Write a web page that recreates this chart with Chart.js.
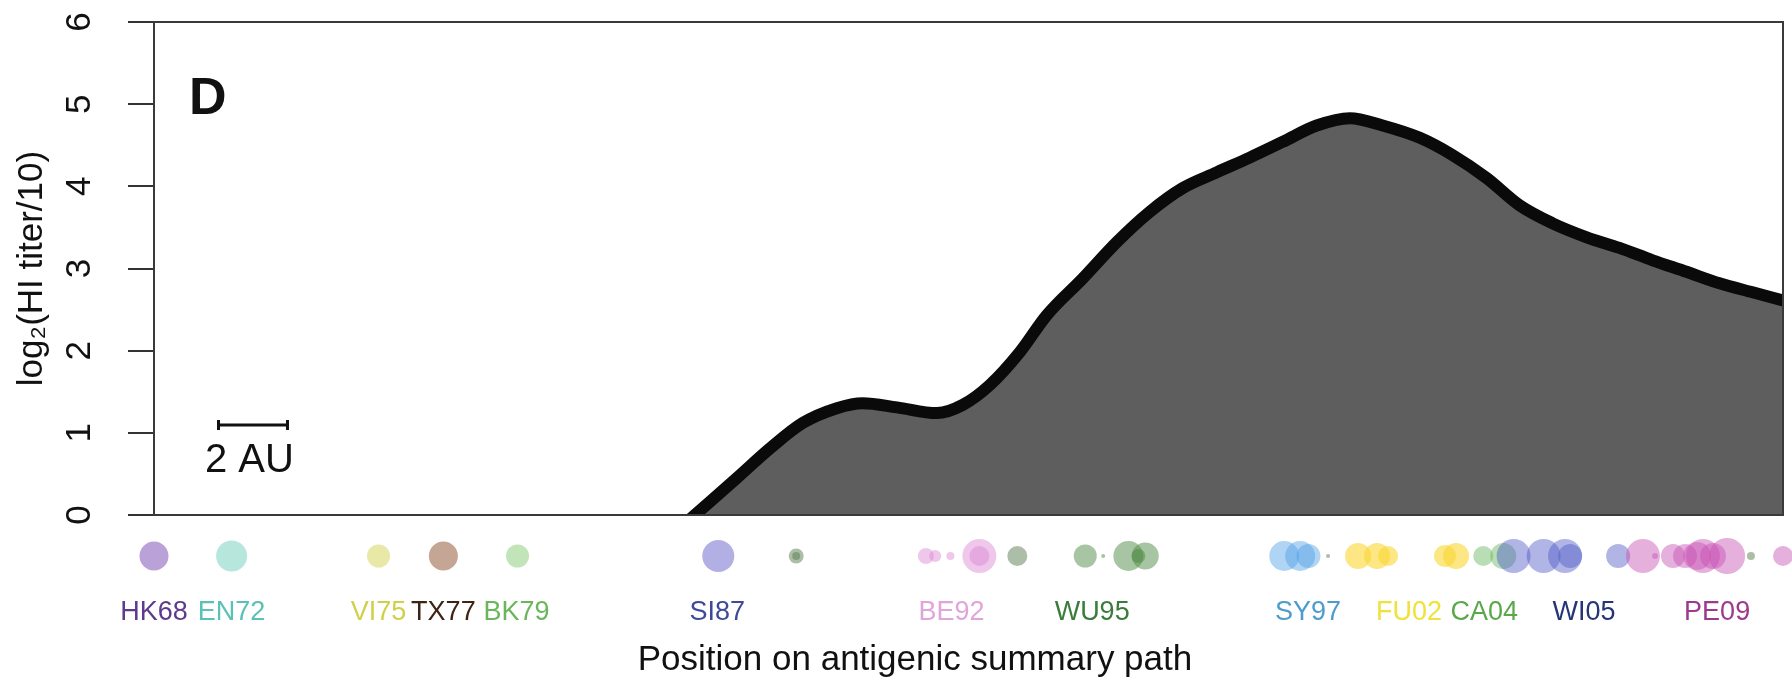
<!DOCTYPE html>
<html>
<head>
<meta charset="utf-8">
<script src="https://cdn.jsdelivr.net/npm/chart.js@4/dist/chart.umd.min.js"></script>
<style>
  html, body { margin: 0; padding: 0; background: #ffffff; }
  #wrap { position: relative; width: 1792px; height: 685px; }
</style>
</head>
<body>
<div id="wrap"><canvas id="landscape"></canvas></div>
<script>
// ---- Data -------------------------------------------------------------
// Antibody landscape along the antigenic summary path (x in antigenic units)
const pathPos = [15.68, 16.90, 17.86, 18.81, 19.80, 20.55, 21.54, 22.70, 23.45, 24.23,
                 25.10, 25.88, 26.93, 27.91, 28.87, 29.83, 30.81, 31.77, 32.72, 33.71,
                 34.67, 35.62, 36.70, 37.65, 38.64, 39.59, 40.55, 41.54, 42.49, 43.45,
                 44.43, 45.39, 46.35, 47.23];
const log2Titer = [0.00, 0.45, 0.81, 1.12, 1.30, 1.36, 1.31, 1.24, 1.34, 1.58,
                   1.98, 2.43, 2.88, 3.32, 3.69, 3.98, 4.17, 4.35, 4.54, 4.74,
                   4.83, 4.74, 4.59, 4.38, 4.10, 3.77, 3.55, 3.38, 3.25, 3.10,
                   2.96, 2.82, 2.71, 2.61];

// Reference strains named under the path
const strainNames = ['HK68', 'EN72', 'VI75', 'TX77', 'BK79', 'SI87', 'BE92',
                     'WU95', 'SY97', 'FU02', 'CA04', 'WI05', 'PE09'];
const strainPos = [0.00, 2.25, 6.51, 8.39, 10.51, 16.33, 23.12,
                   27.20, 33.46, 36.39, 38.57, 41.46, 45.32];

// Viruses projected onto the path and the antigenic cluster of each
const virusPos = [0.00, 2.25, 6.51, 8.39, 10.54, 16.36, 18.62, 18.62,
                  22.38, 22.65, 23.09, 23.93, 23.93, 25.03,
                  27.00, 27.52, 28.25, 28.74, 28.54,
                  32.77, 33.23, 33.47, 34.04,
                  34.91, 35.46, 35.78, 37.43, 37.75,
                  38.54, 39.12,
                  39.42, 40.29, 40.91, 41.06, 42.45,
                  43.17, 43.52, 44.04, 44.39, 44.74, 44.91, 45.20, 45.61, 46.30, 47.23];
const virusCluster = ['HK68', 'EN72', 'VI75', 'TX77', 'BK79', 'SI87', 'other', 'other',
                      'BE92', 'BE92', 'BE92', 'BE92', 'BE92', 'other',
                      'WU95', 'WU95', 'WU95', 'WU95', 'WU95',
                      'SY97', 'SY97', 'SY97', 'other',
                      'FU02', 'FU02', 'FU02', 'FU02', 'FU02',
                      'CA04', 'CA04',
                      'WI05', 'WI05', 'WI05', 'WI05', 'WI05',
                      'PE09', 'PE09', 'PE09', 'PE09', 'PE09', 'PE09', 'PE09', 'PE09', 'other', 'PE09'];

const yTicks = [0, 1, 2, 3, 4, 5, 6];
const scaleBarStart = 1.87;   // AU
const scaleBarLength = 2;     // AU

// ---- Styles -----------------------------------------------------------
const FONT = '"Liberation Sans", Arial, Helvetica, sans-serif';
const markerRadius = [14.5, 15.5, 11.5, 14.5, 11.5, 16, 7.5, 4,
                      8, 6, 4, 17, 10, 10,
                      11.5, 2, 15, 13.5, 7,
                      15, 15, 12, 2,
                      13, 13, 10, 11, 13,
                      10, 13,
                      17, 17, 17, 12, 12,
                      17, 3, 12, 12, 14, 17, 13, 18, 4, 10];
const clusterFill = {
  HK68: 'rgba(140,100,190,0.60)', EN72: 'rgba(110,205,185,0.50)', VI75: 'rgba(210,210,80,0.50)',
  TX77: 'rgba(140,75,40,0.50)',  BK79: 'rgba(120,195,100,0.45)', SI87: 'rgba(100,95,200,0.50)',
  BE92: 'rgba(220,130,210,0.45)', WU95: 'rgba(80,140,70,0.50)',  SY97: 'rgba(80,160,230,0.45)',
  FU02: 'rgba(250,215,50,0.60)',  CA04: 'rgba(100,180,90,0.45)', WI05: 'rgba(80,90,200,0.45)',
  PE09: 'rgba(200,80,180,0.45)',  other: 'rgba(90,125,80,0.50)'
};
const labelColor = {
  HK68: '#5e3a8c', EN72: '#5bc0b5', VI75: '#d0d04a', TX77: '#3d2414', BK79: '#6ab65a',
  SI87: '#3e4a96', BE92: '#e0a6da', WU95: '#3a7d3a', SY97: '#4d9ccc', FU02: '#efe23a',
  CA04: '#5aa84a', WI05: '#253575', PE09: '#9b3a8e'
};

const AREA = { left: 154, top: 22, right: 1783, bottom: 515 };
const STRIP_Y = 556;

// Plot frame drawn round the chart area
const framePlugin = {
  id: 'frame',
  afterDatasetsDraw(chart) {
    const { ctx, chartArea: a } = chart;
    ctx.save();
    ctx.strokeStyle = '#3a3a3a';
    ctx.lineWidth = 2;
    ctx.strokeRect(a.left, a.top, a.right - a.left, a.bottom - a.top);
    ctx.restore();
  }
};

// Virus markers along the path, under the x axis
const stripPlugin = {
  id: 'strip',
  afterDraw(chart) {
    const { ctx } = chart;
    const xs = chart.scales.x;
    ctx.save();
    virusPos.forEach((p, i) => {
      ctx.beginPath();
      ctx.arc(xs.getPixelForValue(p), STRIP_Y, markerRadius[i], 0, Math.PI * 2);
      ctx.fillStyle = clusterFill[virusCluster[i]];
      ctx.fill();
    });
    ctx.restore();
  }
};

// Panel letter, scale bar and x-axis caption
const notesPlugin = {
  id: 'notes',
  afterDraw(chart) {
    const { ctx } = chart;
    const xs = chart.scales.x;
    ctx.save();
    ctx.fillStyle = '#111';
    ctx.textBaseline = 'alphabetic';

    ctx.font = 'bold 52px ' + FONT;
    ctx.textAlign = 'left';
    ctx.fillText('D', 189, 114);

    const x0 = xs.getPixelForValue(scaleBarStart);
    const x1 = xs.getPixelForValue(scaleBarStart + scaleBarLength);
    ctx.strokeStyle = '#111';
    ctx.lineWidth = 3;
    ctx.beginPath();
    ctx.moveTo(x0, 425); ctx.lineTo(x1, 425);
    ctx.moveTo(x0, 420); ctx.lineTo(x0, 430);
    ctx.moveTo(x1, 420); ctx.lineTo(x1, 430);
    ctx.stroke();

    ctx.font = '40px ' + FONT;
    ctx.fillText('2 AU', 205, 472);

    ctx.font = '35px ' + FONT;
    ctx.textAlign = 'center';
    ctx.fillText('Position on antigenic summary path', 915, 670);
    ctx.restore();
  }
};

const chart = new Chart(document.getElementById('landscape'), {
  type: 'line',
  data: {
    datasets: [{
      data: pathPos.map((x, i) => ({ x, y: log2Titer[i] })),
      borderColor: '#0a0a0a',
      borderWidth: 12,
      backgroundColor: '#5e5e5e',
      fill: 'origin',
      pointRadius: 0,
      cubicInterpolationMode: 'monotone',
      borderCapStyle: 'square',
      borderJoinStyle: 'round',
      clip: 0
    }]
  },
  options: {
    responsive: true,
    maintainAspectRatio: false,
    animation: false,
    events: [],
    layout: { padding: { left: 0, top: AREA.top, right: 1792 - AREA.right, bottom: 0 } },
    plugins: { legend: { display: false }, tooltip: { enabled: false } },
    scales: {
      x: {
        type: 'linear',
        min: 0,
        max: 47.23,
        grid: { display: false, drawTicks: false },
        border: { display: false },
        afterBuildTicks: (ax) => { ax.ticks = strainPos.map(v => ({ value: v })); },
        afterFit: (ax) => {
          ax.height = 685 - AREA.bottom;
          ax.paddingLeft = 0;
          ax.paddingRight = 0;
        },
        ticks: {
          autoSkip: false,
          maxRotation: 0,
          minRotation: 0,
          padding: 81,
          font: { family: FONT, size: 27 },
          color: (c) => labelColor[strainNames[c.index]],
          callback: (v, i) => strainNames[i]
        }
      },
      y: {
        min: 0,
        max: 6,
        afterBuildTicks: (ax) => { ax.ticks = yTicks.map(v => ({ value: v })); },
        afterFit: (ax) => {
          ax.width = AREA.left;
          ax.paddingTop = 0;
          ax.paddingBottom = 0;
        },
        grid: { drawOnChartArea: false, drawTicks: true, tickLength: 26, color: '#333', lineWidth: 2 },
        border: { display: false },
        ticks: {
          minRotation: 90,
          maxRotation: 90,
          crossAlign: 'center',
          padding: 38,
          color: '#111',
          font: { family: FONT, size: 35 },
          callback: (v) => String(v)
        },
        title: {
          display: true,
          text: 'log\u2082(HI titer/10)',
          color: '#111',
          font: { family: FONT, size: 35 },
          padding: { top: 11, bottom: 0 }
        }
      }
    }
  },
  plugins: [framePlugin, stripPlugin, notesPlugin]
});
</script>
</body>
</html>
